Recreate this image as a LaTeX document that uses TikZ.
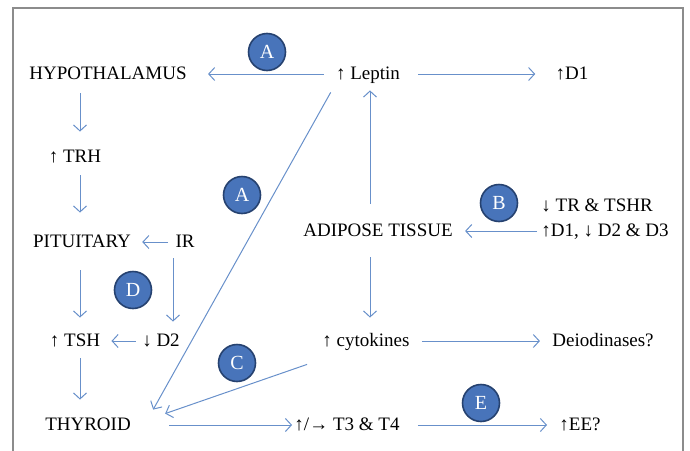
\documentclass[tikz,border=0pt]{standalone}
\usepackage{fontspec}
\setmainfont{Liberation Serif}
\usepackage{tikz}
\usetikzlibrary{positioning,arrows.meta}

\definecolor{linkblue}{RGB}{104,144,202}
\definecolor{badgefill}{RGB}{72,116,186}
\definecolor{badgeedge}{RGB}{38,66,112}
\definecolor{framegray}{RGB}{140,140,140}

\begin{document}
\begin{tikzpicture}[x=0.5pt,y=-0.5pt,
    font=\fontsize{9.5}{11}\selectfont,
    lbl/.style={inner sep=0pt,text height=7pt,text depth=2pt},
    arr/.style={draw=linkblue,line width=0.5pt,-{Straight Barb[length=3pt,width=6.5pt]}},
    badge/.style={circle,fill=badgefill,draw=badgeedge,line width=0.8pt,
        minimum size=18.5pt,inner sep=0pt,text=white,font=\fontsize{10}{11}\selectfont}]
              \useasboundingbox (0,0) rectangle (690,450);
              \draw[framegray,line width=1pt] (13,452) -- (13,8) -- (683,8) -- (683,452);

              %columns for the vertical arrows
              \coordinate (lcol) at (80,0);
              \coordinate (ircol) at (173,0);
              \coordinate (mcol) at (370,0);

              \node[lbl] (hyp) at (108,74) {HYPOTHALAMUS};
              \node[lbl] (lep) at (368,74) {↑ Leptin};
              \node[lbl] (d1) at (572,74) {↑D1};
              \node[lbl] (trh) at (75,157) {↑ TRH};
              \node[lbl] (pit) at (82,242) {PITUITARY};
              \node[lbl] (ir) at (185,242) {IR};
              \node[lbl] (adi) at (378,231) {ADIPOSE TISSUE};
              \node[lbl,anchor=west] (tr) at (541,206) {↓ TR \& TSHR};
              \node[lbl,anchor=west] (dd) at (541,231) {↑D1, ↓ D2 \& D3};
              \node[lbl] (tsh) at (75,341) {↑ TSH};
              \node[lbl] (d2) at (161,341) {↓ D2};
              \node[lbl] (cyt) at (366,341) {↑ cytokines};
              \node[lbl] (deio) at (603,341) {Deiodinases?};
              \node[lbl] (thy) at (88,425) {THYROID};
              \node[lbl] (t3) at (347,425) {↑/→ T3 \& T4};
              \node[lbl] (ee) at (580,425) {↑EE?};

              %top row
              \draw[arr,shorten <=6pt,shorten >=10.5pt] (lep) -- (hyp);
              \draw[arr,shorten <=9pt,shorten >=10pt] (lep) -- (d1);

              %left column
              \draw[arr,shorten <=5pt,shorten >=8pt] (hyp.south -| lcol) -- (trh.north -| lcol);
              \draw[arr,shorten <=4.5pt,shorten >=10pt] (trh.south -| lcol) -- (pit.north -| lcol);
              \draw[arr,shorten <=9.5pt,shorten >=7pt] (pit.south -| lcol) -- (tsh.north -| lcol);
              \draw[arr,shorten <=4pt,shorten >=8pt] (tsh.south -| lcol) -- (thy.north -| lcol);
              \draw[arr,shorten <=3.5pt,shorten >=5.5pt] (ir) -- (pit);
              \draw[arr,shorten <=3.5pt,shorten >=5pt] (ir.south -| ircol) -- (d2.north -| ircol);
              \draw[arr,shorten <=3pt,shorten >=5.5pt] (d2) -- (tsh);

              %adipose tissue
              \draw[arr,shorten <=9pt,shorten >=3.5pt] (adi.north -| mcol) -- (lep.south -| mcol);
              \draw[arr,shorten <=8.5pt,shorten >=7pt] (adi.south -| mcol) -- (cyt.north -| mcol);
              \draw[arr,shorten <=2pt,shorten >=6pt] (dd) -- (adi);
              \draw[arr,shorten <=6pt,shorten >=6pt] (cyt) -- (deio);

              %to the thyroid
              \draw[arr] ([xshift=-2.5pt,yshift=-4.5pt]lep.south west) -- ([xshift=11pt,yshift=3pt]thy.north east);
              \draw[arr] ([xshift=-7.5pt,yshift=-7pt]cyt.south west) -- ([xshift=17pt,yshift=1pt]thy.north east);

              %bottom row
              \draw[arr,shorten <=19pt,shorten >=1pt] (thy) -- (t3);
              \draw[arr,shorten <=9pt,shorten >=6pt] (t3) -- (ee);

              \node[badge] (ba1) at (267,52) {A};
              \node[badge] (ba2) at (242,195) {A};
              \node[badge] (bb) at (499,203) {B};
              \node[badge] (bd) at (133,290) {D};
              \node[badge] (bc) at (237,363) {C};
              \node[badge] (be) at (481,403) {E};
\end{tikzpicture}
\end{document}
